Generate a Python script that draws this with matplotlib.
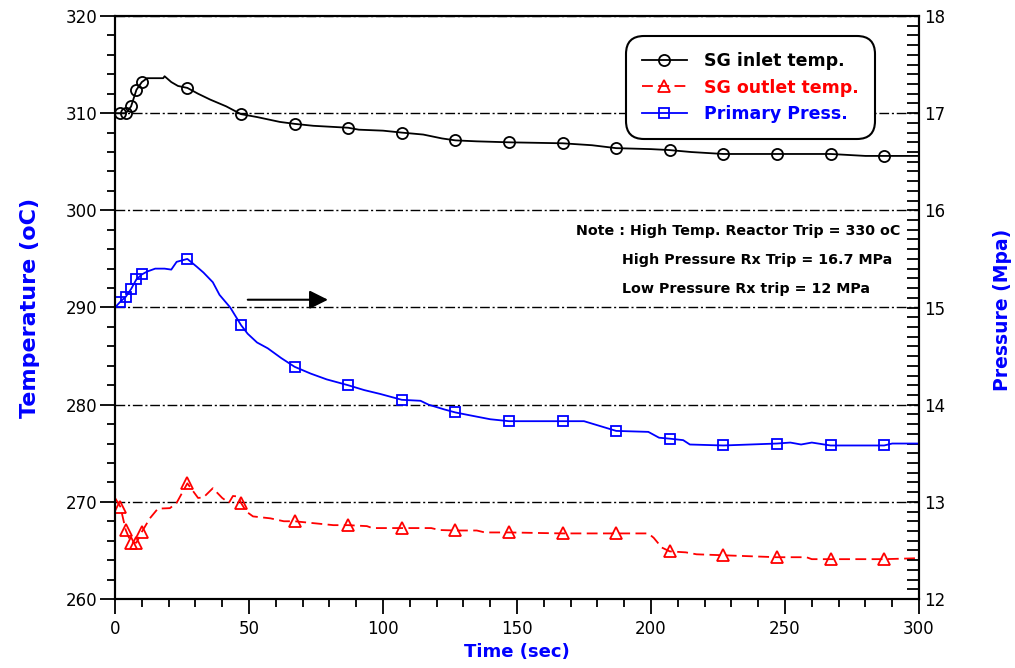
import numpy as np
import matplotlib
matplotlib.use('Agg')
import matplotlib.pyplot as plt
from matplotlib.ticker import MultipleLocator

# SG inlet temperature (oC)
t_inlet = [0, 1, 2, 4, 5, 6, 8, 10, 12, 18, 18.5, 21, 23.5, 27, 31, 35.5, 41.5, 47, 53,
           61.5, 67, 74, 87, 91, 100, 107, 115, 122, 127, 135, 147, 167, 178, 187, 200,
           207, 215, 227, 247, 267, 280, 287, 300]
T_inlet = [310.0, 310.0, 310.0, 310.0, 310.3, 310.7, 312.4, 313.2, 313.6, 313.6, 313.8,
           313.2, 312.8, 312.6, 312.0, 311.4, 310.7, 309.9, 309.6, 309.1, 308.9, 308.7,
           308.5, 308.3, 308.2, 308.0, 307.8, 307.4, 307.2, 307.1, 307.0, 306.9, 306.7,
           306.4, 306.3, 306.2, 306.0, 305.8, 305.8, 305.8, 305.6, 305.6, 305.6]

# SG outlet temperature (oC)
t_outlet = [0, 2, 4, 6, 8, 10, 13, 16, 20.5, 23, 27, 31, 33, 36.5, 40, 42.5, 44, 46, 47,
            49, 51.5, 58, 63, 67, 81.5, 87, 94, 96, 107, 118, 121, 127, 135, 138, 147,
            167, 187, 199, 201, 204, 207, 213, 217, 227, 247, 258, 260, 267, 287, 300]
T_outlet = [270.4, 269.5, 267.1, 265.8, 265.8, 266.9, 268.3, 269.3, 269.35, 269.9, 271.9,
            270.4, 270.45, 271.4, 270.4, 269.9, 270.6, 270.55, 269.9, 269.0, 268.5, 268.3,
            268.0, 268.0, 267.6, 267.6, 267.5, 267.3, 267.3, 267.3, 267.1, 267.05, 267.05,
            266.85, 266.85, 266.75, 266.75, 266.75, 266.3, 265.3, 264.9, 264.8, 264.6,
            264.5, 264.3, 264.3, 264.1, 264.1, 264.1, 264.2]

# primary pressure (MPa)
t_press = [0, 2, 4, 6, 8, 10, 12, 15, 18.5, 21, 23, 27, 30.5, 33, 36.5, 39, 43, 47, 49.5,
           53, 57, 62, 67, 73, 79, 87, 93, 99, 107, 114, 117, 123, 127, 132.5, 140, 147,
           167, 175, 181, 187, 199, 203, 207, 212, 214.5, 227, 247, 252, 256, 260, 267,
           287, 290, 300]
p_press = [15.00, 15.06, 15.11, 15.19, 15.29, 15.34, 15.37, 15.40, 15.40, 15.39, 15.47,
           15.50, 15.42, 15.36, 15.26, 15.13, 15.00, 14.82, 14.73, 14.64, 14.58, 14.48,
           14.39, 14.32, 14.26, 14.20, 14.15, 14.11, 14.05, 14.04, 14.00, 13.95, 13.92,
           13.89, 13.85, 13.83, 13.83, 13.83, 13.78, 13.73, 13.72, 13.66, 13.65, 13.635,
           13.59, 13.58, 13.60, 13.61, 13.59, 13.61, 13.58, 13.58, 13.60, 13.60]

# times at which symbols are drawn
t_marks = [2, 4, 6, 8, 10, 27, 47, 67, 87, 107, 127, 147, 167, 187, 207, 227, 247, 267, 287]

notes = ['Note : High Temp. Reactor Trip = 330 oC',
         'High Pressure Rx Trip = 16.7 MPa',
         'Low Pressure Rx trip = 12 MPa']


def mark_idx(t):
    return [i for i, v in enumerate(t) if v in t_marks]


fig = plt.figure(figsize=(10.15, 6.68), dpi=100)
ax = fig.add_axes([115 / 1015, 1 - 599 / 668, 804 / 1015, 583 / 668])
ax2 = ax.twinx()

ax.plot(t_inlet, T_inlet, color='black', lw=1.3, marker='o', ms=8, mfc='none', mew=1.3,
        markevery=mark_idx(t_inlet), label='SG inlet temp.')
ax.plot(t_outlet, T_outlet, color='red', lw=1.3, ls=(0, (6, 3)), marker='^', ms=8,
        mfc='none', mew=1.3, markevery=mark_idx(t_outlet), label='SG outlet temp.')
ax2.plot(t_press, p_press, color='blue', lw=1.3, marker='s', ms=7, mfc='none', mew=1.3,
         markevery=mark_idx(t_press), label='Primary Press.')

ax.set_xlim(0, 300)
ax.set_ylim(260, 320)
ax2.set_ylim(12, 18)

ax.xaxis.set_major_locator(MultipleLocator(50))
ax.xaxis.set_minor_locator(MultipleLocator(10))
ax.yaxis.set_major_locator(MultipleLocator(10))
ax.yaxis.set_minor_locator(MultipleLocator(2))
ax2.yaxis.set_major_locator(MultipleLocator(1))
ax2.yaxis.set_minor_locator(MultipleLocator(0.1))

ax.grid(axis='y', color='black', lw=1.0, ls=(0, (7, 2, 1.5, 2)))
ax.set_axisbelow(True)

for a in (ax, ax2):
    for s in a.spines.values():
        s.set_linewidth(1.5)
ax.tick_params(axis='both', which='major', direction='out', length=11, width=1.3,
               labelsize=12, pad=2)
ax.tick_params(axis='both', which='minor', direction='out', length=6, width=1.3)
ax.tick_params(axis='x', pad=4)
ax2.tick_params(axis='y', which='major', direction='in', length=9, width=1.3,
                labelsize=12, pad=4)
ax2.tick_params(axis='y', which='minor', direction='in', length=9, width=1.3)

lab = dict(color='blue', fontweight='bold', family='DejaVu Sans')
fig.text(517 / 1015, 1 - 652 / 668, 'Time (sec)', ha='center', va='center',
         fontsize=13, **lab)
fig.text(30 / 1015, 1 - 308 / 668, 'Temperature (oC)', rotation=90, ha='center',
         va='center', fontsize=16, **lab)
fig.text(1003 / 1015, 1 - 310 / 668, 'Pressure (Mpa)', rotation=90, ha='center',
         va='center', fontsize=13.5, **lab)

# note block
ax.text(0.977, 0.631, notes[0], transform=ax.transAxes, ha='right', va='center',
        fontsize=10.3, fontweight='bold')
ax.text(0.631, 0.581, notes[1], transform=ax.transAxes, ha='left', va='center',
        fontsize=10.3, fontweight='bold')
ax.text(0.631, 0.531, notes[2], transform=ax.transAxes, ha='left', va='center',
        fontsize=10.3, fontweight='bold')

ax.annotate('', xy=(80.5, 290.8), xytext=(48.5, 290.8),
            arrowprops=dict(arrowstyle='-|>', color='black', lw=1.5, mutation_scale=28))

h1, l1 = ax.get_legend_handles_labels()
h2, l2 = ax2.get_legend_handles_labels()
leg = ax2.legend(h1 + h2, l1 + l2, loc='upper right',
                 bbox_to_anchor=(880 / 1015, 1 - 31 / 668), bbox_transform=fig.transFigure,
                 prop=dict(weight='bold', size=12.5), labelcolor='linecolor',
                 handlelength=2.6, handletextpad=1.0, borderpad=0.7, labelspacing=0.5,
                 framealpha=1, fancybox=True)
frame = leg.get_frame()
frame.set_edgecolor('black')
frame.set_linewidth(1.5)
frame.set_boxstyle('round,pad=0.2,rounding_size=1.0')

fig.savefig('out.png', dpi=100)
